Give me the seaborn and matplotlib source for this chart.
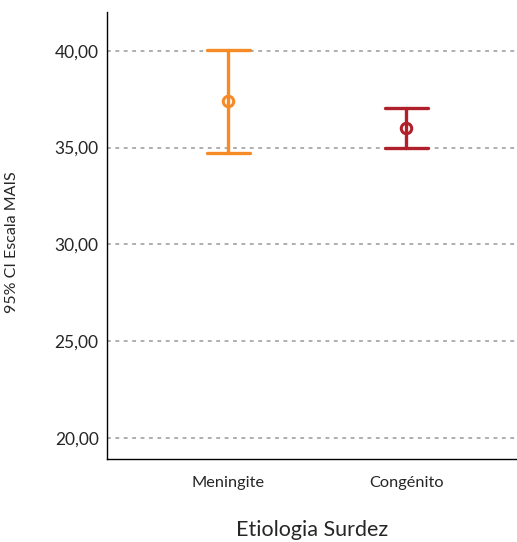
import numpy as np
import pandas as pd
import matplotlib
matplotlib.use("Agg")
import matplotlib.pyplot as plt
import seaborn as sns

# grupos e intervalos de confiança 95%
grupos = ["Meningite", "Congénito"]
media = [37.42, 36.03]
ic_inf = [34.74, 35.00]
ic_sup = [40.05, 37.06]
cores = ["#f58a27", "#b0202a"]
yticks = [20, 25, 30, 35, 40]

# cada grupo: limite inferior, média, limite superior -> mediana = média, pi 100 = IC
linhas = []
for g, lo, m, hi in zip(grupos, ic_inf, media, ic_sup):
    for v in (lo, m, hi):
        linhas.append({"Etiologia Surdez": g, "MAIS": v})
df = pd.DataFrame(linhas)

sns.set_style("white")
plt.rcParams["font.family"] = ["Lato", "DejaVu Sans"]

fig = plt.figure(figsize=(5.17, 5.42), dpi=100)
ax = fig.add_axes([0.207, 0.153, 0.793, 0.825])

# grelha tracejada atrás dos pontos
for t in yticks:
    ax.axhline(t, color="#999999", linestyle=(0, (2.5, 3)), linewidth=1.1, zorder=0)

sns.pointplot(data=df, x="Etiologia Surdez", y="MAIS", hue="Etiologia Surdez",
              palette=cores, order=grupos, estimator="median", errorbar=("pi", 100),
              capsize=0.24, linestyle="none", markers="o", markersize=7.5,
              markerfacecolor="white", markeredgewidth=2.2,
              err_kws={"linewidth": 2.4}, legend=False, ax=ax)

ax.set_xlim(-0.68, 1.62)
ax.set_ylim(18.92, 42.0)
ax.set_yticks(yticks)
ax.set_yticklabels([f"{t:.2f}".replace(".", ",") for t in yticks], fontsize=12.5)
ax.tick_params(axis="x", labelsize=11.8, length=0, pad=12)
ax.tick_params(axis="y", length=0, pad=6)
ax.set_xlabel("Etiologia Surdez", fontsize=15.5, labelpad=22)
ax.set_ylabel("95% CI Escala MAIS", fontsize=11.5, labelpad=22)
ax.yaxis.set_label_coords(-0.215, 0.485)

for s in ["top", "right"]:
    ax.spines[s].set_visible(False)
for s in ["left", "bottom"]:
    ax.spines[s].set_color("black")
    ax.spines[s].set_linewidth(1.0)

fig.savefig("out.png", dpi=100)
